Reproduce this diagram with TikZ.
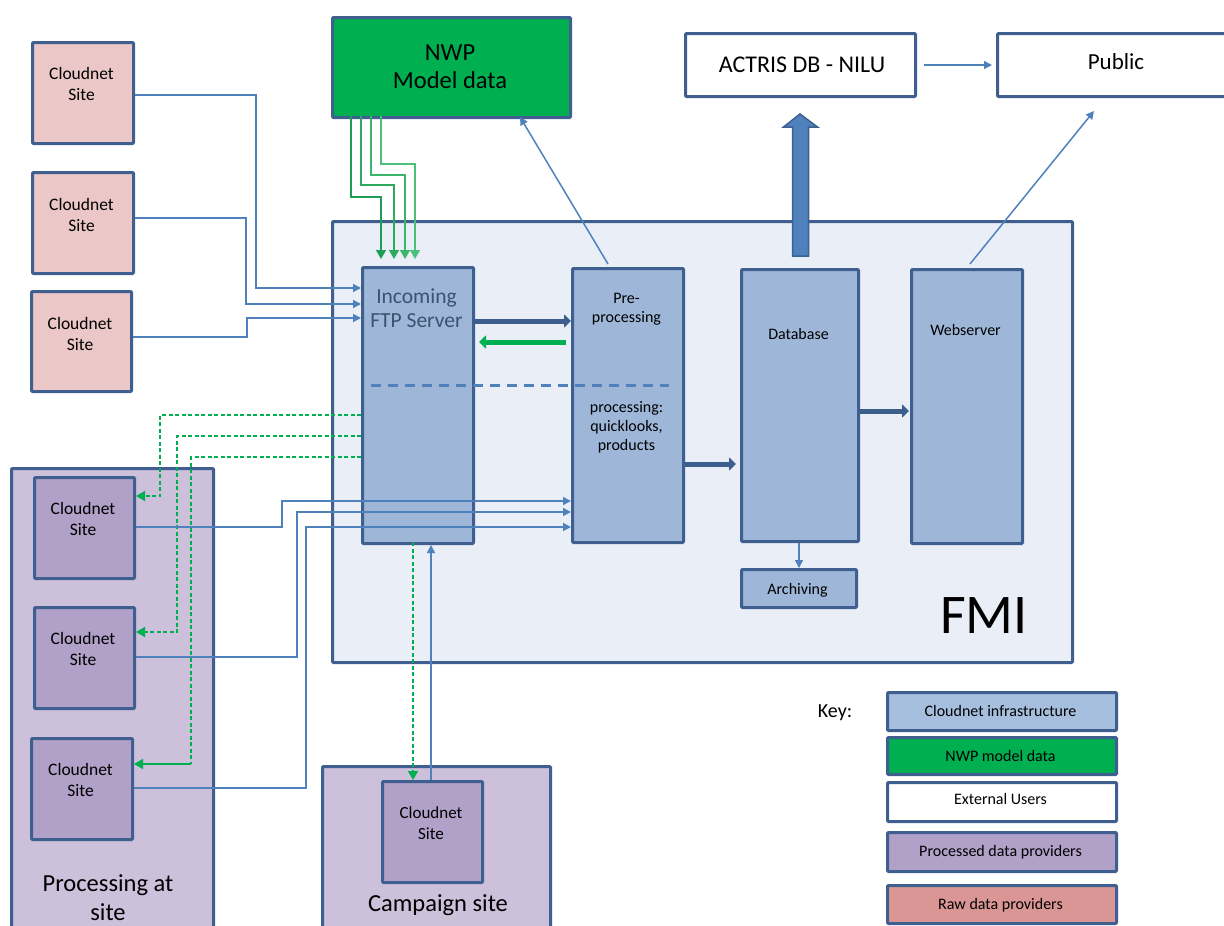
\documentclass[tikz,border=0pt]{standalone}
\usepackage{fontspec}
\setmainfont{Carlito}
\usetikzlibrary{arrows.meta,calc}
\definecolor{bord}{HTML}{3E5F8F}
\definecolor{infra}{HTML}{9EB7D9}
\definecolor{infrakey}{HTML}{A7BFDE}
\definecolor{fmibg}{HTML}{EAEFF7}
\definecolor{nwp}{HTML}{00B050}
\definecolor{rawfill}{HTML}{EBC8C7}
\definecolor{rawkey}{HTML}{DA9694}
\definecolor{procfill}{HTML}{B1A0C7}
\definecolor{procbg}{HTML}{CCC0DA}
\definecolor{thinbl}{HTML}{4F81BD}
\definecolor{thickbl}{HTML}{3B5E8C}
\definecolor{ftptext}{HTML}{3F5170}
\definecolor{gA}{HTML}{1E9E55}
\definecolor{gB}{HTML}{2BAA5E}
\definecolor{gC}{HTML}{3AB56A}
\definecolor{gD}{HTML}{4CC078}
\tikzset{
  box/.style={draw=bord, line width=3pt, anchor=north west, inner sep=0pt, rounded corners=1pt},
  tx/.style={align=center, inner sep=0pt, text=black},
  f14/.style={font=\fontsize{16}{19}\selectfont},
  f15/.style={font=\fontsize{17.5}{21}\selectfont},
  thinl/.style={draw=thinbl, line width=1.5pt, -{Triangle[length=8pt,width=8pt]}},
  thkarrow/.style={draw=thickbl, line width=5pt, -{Triangle[length=7pt,width=13pt]}},
  gthk/.style={draw=nwp, line width=5pt, -{Triangle[length=7pt,width=13pt]}},
  gline/.style={line width=1.5pt, -{Triangle[length=9pt,width=10pt]}},
  gdash/.style={draw=nwp, line width=1.5pt, dash pattern=on 4pt off 2.5pt, -{Triangle[length=9pt,width=10pt]}},
}
\begin{document}
\begin{tikzpicture}[x=1pt,y=-1pt]
\useasboundingbox (0,0) rectangle (1224,926);
% backgrounds
\node[box, fill=fmibg, minimum width=740pt, minimum height=441pt] (fmi) at (331,220) {};
\node[box, fill=procbg, minimum width=202pt, minimum height=480pt] (procsite) at (10,467) {};
\node[box, fill=procbg, minimum width=228pt, minimum height=180pt] (camp) at (321,765) {};
% top boxes
\node[box, fill=nwp, minimum width=238pt, minimum height=100pt] (nwpb) at (331,16) {};
\node[box, fill=white, minimum width=230pt, minimum height=63pt] (actris) at (684,32) {};
\node[box, fill=white, minimum width=240pt, minimum height=63pt] (public) at (996,32) {};
% raw sites
\node[box, fill=rawfill, minimum width=101pt, minimum height=101pt] (s1) at (31,41) {};
\node[box, fill=rawfill, minimum width=101pt, minimum height=101pt] (s2) at (31,171) {};
\node[box, fill=rawfill, minimum width=100pt, minimum height=100pt] (s3) at (30,290) {};
% processed sites
\node[box, fill=procfill, minimum width=100pt, minimum height=101pt] (p1) at (33,476) {};
\node[box, fill=procfill, minimum width=100pt, minimum height=101pt] (p2) at (33,606) {};
\node[box, fill=procfill, minimum width=101pt, minimum height=101pt] (p3) at (30,737) {};
\node[box, fill=procfill, minimum width=100pt, minimum height=101pt] (c1) at (381,780) {};
% FMI inner boxes
\node[box, fill=infra, minimum width=111pt, minimum height=276pt] (ftp) at (361,266) {};
\node[box, fill=infra, minimum width=111pt, minimum height=274pt] (pre) at (571,267) {};
\node[box, fill=infra, minimum width=117pt, minimum height=272pt] (db) at (740,268) {};
\node[box, fill=infra, minimum width=111pt, minimum height=274pt] (web) at (910,268) {};
\node[box, fill=infra, minimum width=115pt, minimum height=38pt] (arch) at (740,568) {};
% key boxes
\node[box, fill=infrakey, minimum width=229pt, minimum height=38pt] (k1) at (886,691) {};
\node[box, fill=nwp, minimum width=229pt, minimum height=37pt] (k2) at (886,736) {};
\node[box, fill=white, minimum width=229pt, minimum height=39pt] (k3) at (886,781) {};
\node[box, fill=procfill, minimum width=229pt, minimum height=39pt] (k4) at (886,831) {};
\node[box, fill=rawkey, minimum width=229pt, minimum height=38pt] (k5) at (886,884) {};

% texts
\node[tx, f15] (ts1) at (81.5,84) {Cloudnet\\Site};
\node[tx, f15] (ts2) at (81.5,215) {Cloudnet\\Site};
\node[tx, f15] (ts3) at (80,334) {Cloudnet\\Site};
\node[tx, f15] (tp1) at (83,519) {Cloudnet\\Site};
\node[tx, f15] (tp2) at (83,649) {Cloudnet\\Site};
\node[tx, f15] (tp3) at (80.5,780) {Cloudnet\\Site};
\node[tx, font=\fontsize{17}{21}\selectfont] (tc1) at (431,823) {Cloudnet\\Site};
\node[tx, font=\fontsize{24.5}{28}\selectfont] (tnwp) at (450,67) {NWP\\Model data};
\node[tx, font=\fontsize{24}{26}\selectfont] (tact) at (802,65) {ACTRIS DB - NILU};
\node[tx, font=\fontsize{23}{26}\selectfont] (tpub) at (1116,62) {Public};
\node[tx, font=\fontsize{21.5}{24}\selectfont, text=ftptext] (tftp) at (416.5,308) {Incoming\\FTP Server};
\node[tx, f14] (tpre) at (626.5,309) {Pre-\\processing};
\node[tx, f14] (tproc) at (626.5,427) {processing:\\quicklooks,\\products};
\node[tx, f14] (tdb) at (798.5,334) {Database};
\node[tx, f14] (tweb) at (965.5,330) {Webserver};
\node[tx, f14] (tarch) at (797.5,590) {Archiving};
\node[tx, font=\fontsize{56}{60}\selectfont] (tfmi) at (984,616) {FMI};
\node[tx, font=\fontsize{24.5}{29}\selectfont] (tps) at (108,898) {Processing at\\site};
\node[tx, font=\fontsize{24.5}{28}\selectfont] (tcs) at (438,905) {Campaign site};
\node[tx, font=\fontsize{20}{22}\selectfont] (tkey) at (835,713) {Key:};
\node[tx, f14] (tk1) at (1000.5,711) {Cloudnet infrastructure};
\node[tx, f14] (tk2) at (1000.5,756) {NWP model data};
\node[tx, f14] (tk3) at (1000.5,799) {External Users};
\node[tx, f14] (tk4) at (1000.5,852) {Processed data providers};
\node[tx, f14] (tk5) at (1000.5,905) {Raw data providers};

% separator dashed line
\draw[draw=thinbl, line width=3pt, dash pattern=on 10pt off 7pt] (371,385) -- (669,385);

% NWP -> FTP green lines
\draw[gline, draw=gA] (351,116) -- (351,197) -- (381,197) -- (381,259);
\draw[gline, draw=gB] (361,116) -- (361,185) -- (394,185) -- (394,259);
\draw[gline, draw=gC] (371,116) -- (371,175) -- (405,175) -- (405,259);
\draw[gline, draw=gD] (381,116) -- (381,164) -- (415,164) -- (415,259);

% raw sites -> FTP
\draw[thinl] (s1.east |- 0,95) -- (256,95) -- (256,288) -- (ftp.west |- 0,288);
\draw[thinl] (s2.east |- 0,218) -- (246,218) -- (246,304) -- (ftp.west |- 0,304);
\draw[thinl] (s3.east |- 0,337) -- (247,337) -- (247,318) -- (ftp.west |- 0,318);

% FTP -> processed sites (green dashed)
\draw[gdash] (ftp.west |- 0,415) -- (160,415) -- (160,496) -- (p1.east |- 0,496);
\draw[gdash] (ftp.west |- 0,436) -- (177,436) -- (177,632) -- (p2.east |- 0,632);
\draw[draw=nwp, line width=1.5pt, dash pattern=on 4pt off 2.5pt] (ftp.west |- 0,457) -- (191,457) -- (191,764);
\draw[draw=nwp, line width=1.5pt, -{Triangle[length=9pt,width=10pt]}] (191,764) -- (p3.east |- 0,764);

% processed sites -> pre-processing
\draw[thinl] (p1.east |- 0,527) -- (282,527) -- (282,501) -- (pre.west |- 0,501);
\draw[thinl] (p2.east |- 0,657) -- (297,657) -- (297,512) -- (pre.west |- 0,512);
\draw[thinl] (p3.east |- 0,788) -- (306,788) -- (306,527) -- (pre.west |- 0,527);

% campaign
\draw[gdash] (413,542) -- (c1.north -| 413,0);
\draw[thinl] (c1.north -| 431,0) -- (ftp.south -| 431,0);

% thick arrows
\draw[thkarrow] (ftp.east |- 0,321) -- (pre.west |- 0,321);
\draw[gthk] ($(pre.west |- 0,342)+(-5,0)$) -- ($(ftp.east |- 0,342)+(4,0)$);
\draw[thkarrow] (pre.east |- 0,464) -- ($(db.west |- 0,464)+(-4,0)$);
\draw[thkarrow] (db.east |- 0,411) -- ($(web.west |- 0,411)+(-1,0)$);

% block arrow db -> actris
\draw[draw=bord, line width=1.5pt, fill=thinbl, line join=miter]
  ($(db.north)+(-7.5,-12)$) -- ($(db.north)+(-7.5,-141)$) -- ($(db.north)+(-16.5,-141)$)
  -- ($(actris.south -| db.north)+(0,16)$) -- ($(db.north)+(17.5,-141)$)
  -- ($(db.north)+(8.5,-141)$) -- ($(db.north)+(8.5,-12)$) -- cycle;

% thin arrows
\draw[thinl] (arch.north |- db.south) -- (arch.north);
\draw[thinl] ($(actris.east)+(7,0)$) -- ($(public.west)+(-4,0)$);
\coordinate (preout) at (608,264);
\coordinate (nwpin) at (520,117);
\draw[thinl] (preout) -- (nwpin);
\coordinate (webout) at (970,264);
\coordinate (pubin) at (1094,111);
\draw[thinl] (webout) -- (pubin);
\end{tikzpicture}
\end{document}
